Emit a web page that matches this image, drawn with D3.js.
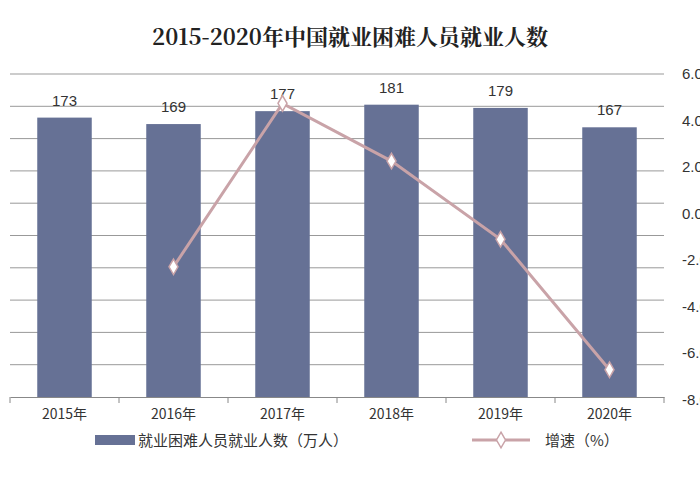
<!DOCTYPE html><html><head><meta charset="utf-8"><script src="https://cdn.jsdelivr.net/npm/d3@7"></script>
<style>body{margin:0;background:#fff}</style></head><body><svg width="700" height="500"></svg><script>
const years=["2015年","2016年","2017年","2018年","2019年","2020年"];
const counts=[173,169,177,181,179,167];
const growth=[null,-2.28,4.74,2.26,-1.10,-6.70];
const rightTicks=[6,4,2,0,-2,-4,-6,-8];
const svg=d3.select("svg");
const L=10,R=664,T=74,B=397;
const x=d3.scaleBand().domain(years).range([L,R]);
const yL=d3.scaleLinear().domain([0,200]).range([B,T]);
const yR=d3.scaleLinear().domain([-8,6]).range([B+3,T]);
svg.append("text").attr("x",350).attr("y",45).attr("text-anchor","middle").attr("font-family","'Noto Serif CJK SC','Noto Sans CJK SC',serif").attr("font-weight","bold").attr("font-size",22).attr("fill","#222").text("2015-2020年中国就业困难人员就业人数");
d3.range(20,201,20).forEach(v=>svg.append("line").attr("x1",L).attr("x2",R).attr("y1",yL(v)).attr("y2",yL(v)).attr("stroke","#999").attr("stroke-width",1));
svg.selectAll(".bar").data(counts).enter().append("rect").attr("x",(d,i)=>x(years[i])+x.step()*0.25).attr("width",x.step()*0.5).attr("y",d=>yL(d)).attr("height",d=>B-yL(d)).attr("fill","#667195");
svg.selectAll(".bl").data(counts).enter().append("text").attr("x",(d,i)=>x(years[i])+x.bandwidth()/2).attr("y",d=>yL(d)-12).attr("text-anchor","middle").attr("font-family","Liberation Sans,Arial").attr("font-size",15).attr("fill","#333").text(d=>d);
const ax=svg.append("g").attr("transform",`translate(0,${B})`).call(d3.axisBottom(x).tickSize(0).tickPadding(12));
ax.select(".domain").attr("stroke","#888");
ax.selectAll("text").attr("font-size",14).attr("font-family","'Noto Sans CJK SC',sans-serif").attr("fill","#333");
years.concat([null]).forEach((d,i)=>svg.append("line").attr("x1",L+i*x.step()).attr("x2",L+i*x.step()).attr("y1",B).attr("y2",B+6).attr("stroke","#888"));
rightTicks.forEach(v=>svg.append("text").attr("x",682).attr("y",yR(v)+5).attr("font-family","Liberation Sans,Arial").attr("font-size",15).attr("fill","#333").text(v.toFixed(2)));
const pts=growth.map((g,i)=>[x(years[i])+x.bandwidth()/2,g]).filter(p=>p[1]!==null);
svg.append("path").attr("d",d3.line().x(p=>p[0]).y(p=>yR(p[1]))(pts)).attr("fill","none").attr("stroke","#c9a3a8").attr("stroke-width",3);
const dia=d3.symbol().type(d3.symbolDiamond).size(70);
svg.selectAll(".pt").data(pts).enter().append("path").attr("d",dia).attr("transform",p=>`translate(${p[0]},${yR(p[1])})`).attr("fill","#fff").attr("stroke","#c9a3a8").attr("stroke-width",1.5);
svg.append("rect").attr("x",95).attr("y",435).attr("width",40).attr("height",10).attr("fill","#667195");
svg.append("text").attr("x",138).attr("y",446).attr("font-family","'Noto Sans CJK SC',sans-serif").attr("font-size",15).attr("fill","#333").text("就业困难人员就业人数（万人）");
svg.append("line").attr("x1",472).attr("x2",530).attr("y1",440).attr("y2",440).attr("stroke","#c9a3a8").attr("stroke-width",3);
svg.append("path").attr("d",dia).attr("transform","translate(501,440)").attr("fill","#fff").attr("stroke","#c9a3a8").attr("stroke-width",1.5);
svg.append("text").attr("x",545).attr("y",446).attr("font-family","'Noto Sans CJK SC',sans-serif").attr("font-size",15).attr("fill","#333").text("增速（%）");
</script></body></html>
